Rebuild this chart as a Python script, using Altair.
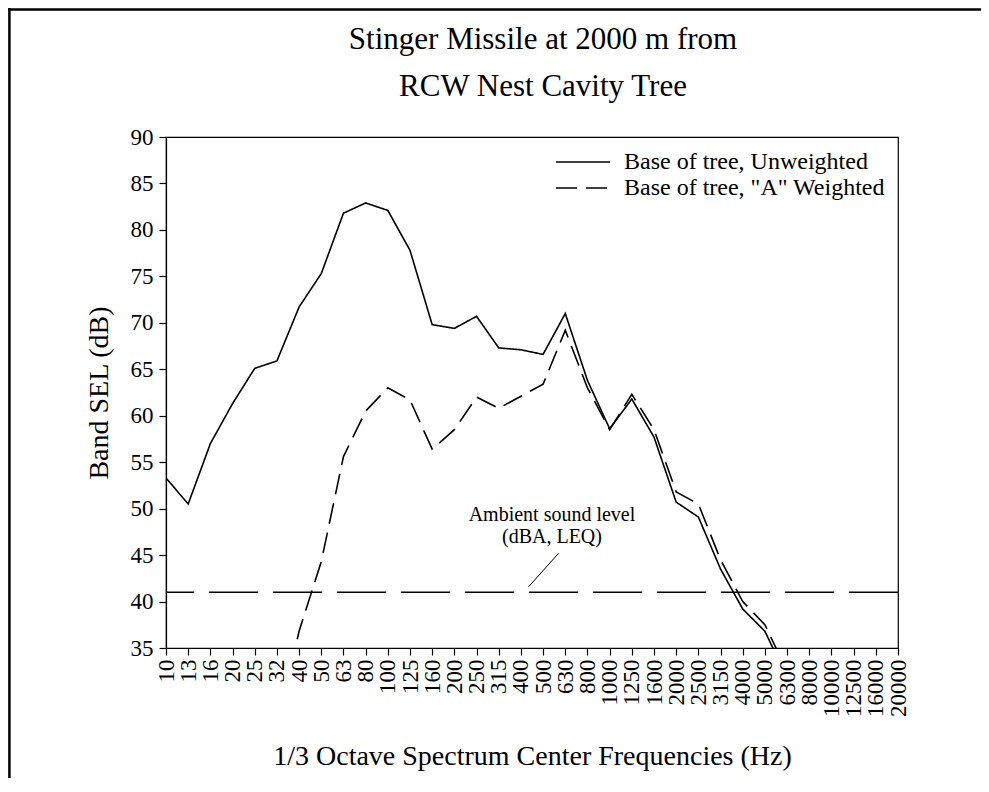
import altair as alt
import pandas as pd

freqs = ["10", "13", "16", "20", "25", "32", "40", "50", "63", "80", "100", "125",
         "160", "200", "250", "315", "400", "500", "630", "800", "1000", "1250",
         "1600", "2000", "2500", "3150", "4000", "5000", "6300", "8000", "10000",
         "12500", "16000", "20000"]

unweighted = [53.3, 50.5, 57.0, 61.3, 65.1, 65.9, 71.7, 75.3, 81.8, 82.9, 82.1, 77.8,
              69.8, 69.4, 70.7, 67.3, 67.1, 66.6, 71.0, 63.8, 58.6, 61.8,
              57.7, 50.7, 49.1, 43.5, 39.2, 36.8, 31.8]

# A-weighted: bands below 32 Hz fall far under the axis floor (not visible)
a_freqs = ["32", "40", "50", "63", "80", "100", "125", "160", "200", "250", "315",
           "400", "500", "630", "800", "1000", "1250", "1600", "2000", "2500",
           "3150", "4000", "5000", "6300"]
a_weighted = [26.5, 36.8, 44.3, 55.6, 60.5, 63.0, 61.7, 56.4, 58.5, 62.0, 60.8,
              62.1, 63.4, 69.2, 63.0, 58.5, 62.3, 58.5, 51.8, 50.5,
              44.5, 40.0, 37.5, 32.5]

series_names = ["Base of tree, Unweighted", 'Base of tree, "A" Weighted']
ambient_level = 41.0

ann_lines = ["Ambient sound level", "(dBA, LEQ)"]
ann_x = [17.4, 17.4]
ann_y = [49.3, 46.9]
leader_x = [16.35, 17.7]
leader_y = [41.6, 45.2]

title_lines = ["Stinger Missile at 2000 m from", "RCW Nest Cavity Tree"]

FONT = "Liberation Serif"
W, H = 732, 511
DASH_SOLID = [1, 0]
DASH_A = [21, 9]

rows = []
for i, v in enumerate(unweighted):
    rows.append({"idx": i, "value": v, "series": series_names[0]})
for f, v in zip(a_freqs, a_weighted):
    rows.append({"idx": freqs.index(f), "value": v, "series": series_names[1]})
df = pd.DataFrame(rows)

label_array = "[" + ",".join("'%s'" % f for f in freqs) + "]"

x_scale = alt.Scale(domain=[0, len(freqs) - 1], nice=False, zero=False)
y_scale = alt.Scale(domain=[35, 90], nice=False, zero=False)

x_axis = alt.Axis(values=list(range(len(freqs))), labelExpr=label_array + "[datum.value]",
                  labelAngle=270, labelOverlap=False, labelPadding=4, tickSize=7,
                  title="1/3 Octave Spectrum Center Frequencies (Hz)", titlePadding=26,
                  labelFontSize=23, titleFontSize=28, grid=False, labelBound=False,
                  labelFlush=False)
y_axis = alt.Axis(values=list(range(35, 91, 5)), tickSize=7, labelPadding=6,
                  title="Band SEL (dB)", titlePadding=17, labelFontSize=23,
                  titleFontSize=28, grid=False, labelFlush=False)


def X(field):
    return alt.X(field, scale=x_scale, axis=x_axis)


def Y(field):
    return alt.Y(field, scale=y_scale, axis=y_axis)


lines = alt.Chart(df).mark_line(color="black", strokeWidth=1.6, clip=True).encode(
    x=X("idx:Q"),
    y=Y("value:Q"),
    strokeDash=alt.StrokeDash(
        "series:N",
        scale=alt.Scale(domain=series_names, range=[DASH_SOLID, DASH_A]),
        legend=None,
    ),
    detail="series:N",
)

ambient = alt.Chart(pd.DataFrame({"level": [ambient_level]})).mark_rule(
    color="black", strokeWidth=1.6, strokeDash=[49, 15]
).encode(y=Y("level:Q"))

ann_df = pd.DataFrame({"text": ann_lines, "x": ann_x, "y": ann_y})
ann_text = alt.Chart(ann_df).mark_text(font=FONT, fontSize=20, color="black",
                                        align="center", baseline="middle").encode(
    x=X("x:Q"), y=Y("y:Q"), text="text:N")

leader_df = pd.DataFrame({"x": leader_x, "y": leader_y})
leader = alt.Chart(leader_df).mark_line(color="black", strokeWidth=1).encode(
    x=X("x:Q"), y=Y("y:Q"))

# legend (guide) drawn as symbol lines and labels in the plot's top-right corner
legend_layers = []
for i, (name, dash) in enumerate(zip(series_names, [DASH_SOLID, DASH_A])):
    ly = 25 + 26 * i
    legend_layers.append(
        alt.Chart(pd.DataFrame({"s": [name]})).mark_rule(
            color="black", strokeWidth=1.6, strokeDash=dash
        ).encode(x=alt.value(390), x2=alt.value(444), y=alt.value(ly))
    )
    legend_layers.append(
        alt.Chart(pd.DataFrame({"s": [name]})).mark_text(
            font=FONT, fontSize=24, color="black", align="left", baseline="middle"
        ).encode(x=alt.value(458), y=alt.value(ly), text="s:N")
    )

title1 = alt.Chart(pd.DataFrame({"text": [title_lines[0]]})).mark_text(
    font=FONT, fontSize=31, color="black", align="center", baseline="middle"
).encode(x=alt.value(377), y=alt.value(-97), text="text:N")
title2 = alt.Chart(pd.DataFrame({"text": [title_lines[1]]})).mark_text(
    font=FONT, fontSize=31, color="black", align="center", baseline="middle"
).encode(x=alt.value(377), y=alt.value(-50), text="text:N")

frame_top = alt.Chart(pd.DataFrame({"a": [0]})).mark_rule(
    color="black", strokeWidth=2.5
).encode(x=alt.value(-158), x2=alt.value(W + 83), y=alt.value(-127.6))
frame_left = alt.Chart(pd.DataFrame({"a": [0]})).mark_rule(
    color="black", strokeWidth=2.5
).encode(x=alt.value(-156.6), y=alt.value(-129), y2=alt.value(H + 130))

chart = alt.layer(frame_top, frame_left, ambient, lines, leader, ann_text,
                  *legend_layers, title1, title2).properties(
    width=W, height=H,
    autosize=alt.AutoSizeParams(type="none"),
    padding={"left": 158, "top": 129, "right": 83, "bottom": 130},
    background="white",
).configure_view(stroke="black", strokeWidth=1.2).configure_axis(
    domainColor="black", domainWidth=1.2, tickColor="black", tickWidth=1.2,
    labelFont=FONT, titleFont=FONT, labelColor="black", titleColor="black",
    titleFontWeight="normal"
)

chart.save("out.html", embed_options={"renderer": "svg", "actions": False})
